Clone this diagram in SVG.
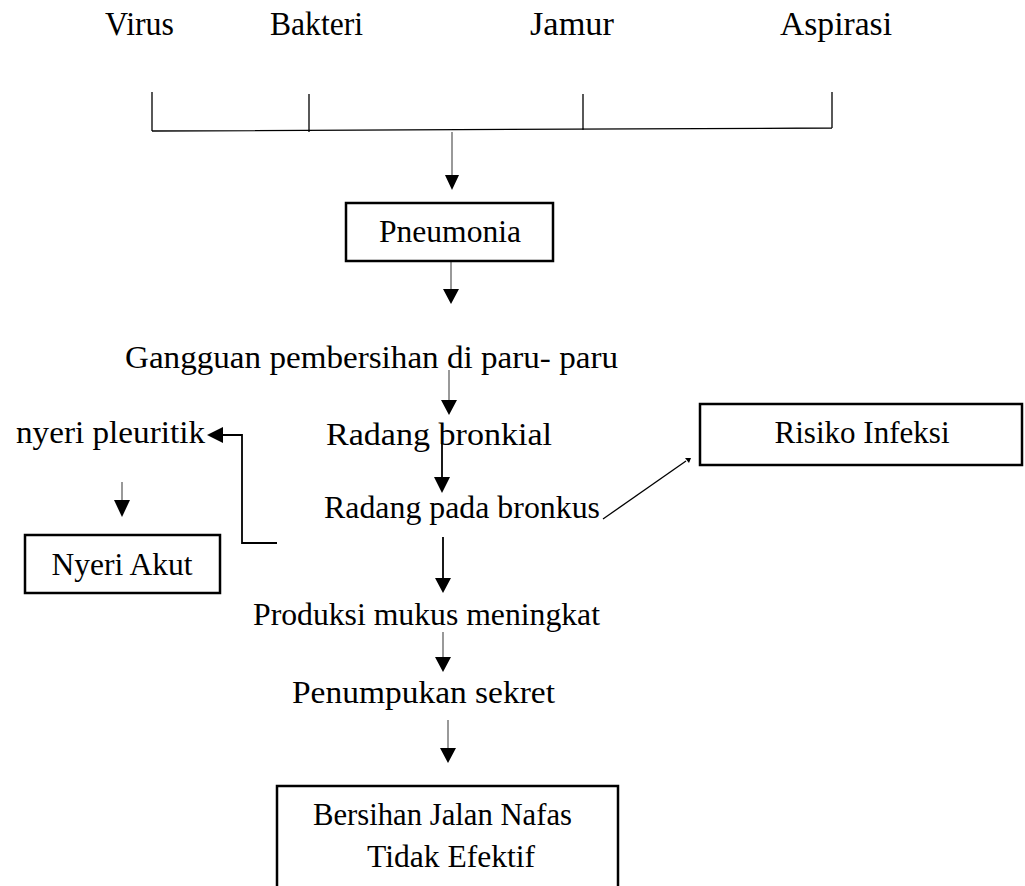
<svg xmlns="http://www.w3.org/2000/svg" width="1025" height="886" viewBox="0 0 1025 886">
<style>
text{font-family:'Liberation Serif','DejaVu Serif',serif;font-size:32px;fill:#000}
.top{font-size:33px}
.box{fill:#fff;stroke:#000;stroke-width:2.5}
.ln{fill:none;stroke:#000;stroke-width:1.3}
.gl{fill:none;stroke:#777;stroke-width:1.5}
.bl{fill:none;stroke:#000;stroke-width:1.8}
.ah{fill:#000}
</style>
<rect width="1025" height="886" fill="#fff"/>
<g id="causes">
<text class="top" x="105" y="35" textLength="69" lengthAdjust="spacingAndGlyphs">Virus</text>
<text class="top" x="270" y="35" textLength="93" lengthAdjust="spacingAndGlyphs">Bakteri</text>
<text class="top" x="530" y="35" textLength="84" lengthAdjust="spacingAndGlyphs">Jamur</text>
<text class="top" x="780" y="35" textLength="112" lengthAdjust="spacingAndGlyphs">Aspirasi</text>
</g>
<g id="connectors">
<path class="ln" d="M152,92V131M309,94V132M583,94V130M832,92V128M152,131L832,128"/>
<path class="gl" d="M452,132V176"/><path class="ah" d="M445,175H459L452,190Z"/>
<path class="gl" d="M451,261V290"/><path class="ah" d="M443,289H459L451,304Z"/>
<path class="gl" d="M449,370V401"/><path class="ah" d="M441,400H457L449,415Z"/>
<path class="bl" d="M442,443V478"/><path class="ah" d="M434,477H450L442,493Z"/>
<path class="bl" d="M277,543H242V435H222"/><path class="ah" d="M223,427V443L207,435Z"/>
<path class="gl" d="M122,482V501"/><path class="ah" d="M114,500H130L122,517Z"/>
<path class="ln" d="M603,519L686,461"/><path class="ah" d="M685,458L691,458L689,463Z"/>
<path class="bl" d="M443,537V579"/><path class="ah" d="M435,578H451L443,593Z"/>
<path class="gl" d="M443,632V658"/><path class="ah" d="M435,657H451L443,672Z"/>
<path class="gl" d="M448,720V749"/><path class="ah" d="M440,748H456L448,763Z"/>
</g>
<g id="pneumonia"><rect class="box" x="346" y="203" width="207" height="58"/><text x="450" y="242" text-anchor="middle" textLength="142" lengthAdjust="spacingAndGlyphs">Pneumonia</text></g>
<g id="gangguan"><text x="125" y="368" textLength="493" lengthAdjust="spacingAndGlyphs">Gangguan pembersihan di paru- paru</text></g>
<g id="radang-bronkial"><text x="326" y="445" textLength="226" lengthAdjust="spacingAndGlyphs">Radang bronkial</text></g>
<g id="nyeri-pleuritik"><text x="16" y="443" textLength="189" lengthAdjust="spacingAndGlyphs">nyeri pleuritik</text></g>
<g id="radang-pada-bronkus"><text x="324" y="518" textLength="276" lengthAdjust="spacingAndGlyphs">Radang pada bronkus</text></g>
<g id="risiko-infeksi"><rect class="box" x="700" y="404" width="322" height="61"/><text x="862" y="443" text-anchor="middle" textLength="175" lengthAdjust="spacingAndGlyphs">Risiko Infeksi</text></g>
<g id="nyeri-akut"><rect class="box" x="25" y="535" width="195" height="58"/><text x="122" y="575" text-anchor="middle" textLength="141" lengthAdjust="spacingAndGlyphs">Nyeri Akut</text></g>
<g id="produksi"><text x="253" y="625" textLength="347" lengthAdjust="spacingAndGlyphs">Produksi mukus meningkat</text></g>
<g id="penumpukan"><text x="292" y="703" textLength="263" lengthAdjust="spacingAndGlyphs">Penumpukan sekret</text></g>
<g id="bersihan"><rect class="box" x="277" y="786" width="341" height="120"/><text x="313" y="825" textLength="259" lengthAdjust="spacingAndGlyphs">Bersihan Jalan Nafas</text><text x="367" y="867" textLength="168" lengthAdjust="spacingAndGlyphs">Tidak Efektif</text></g>
</svg>
